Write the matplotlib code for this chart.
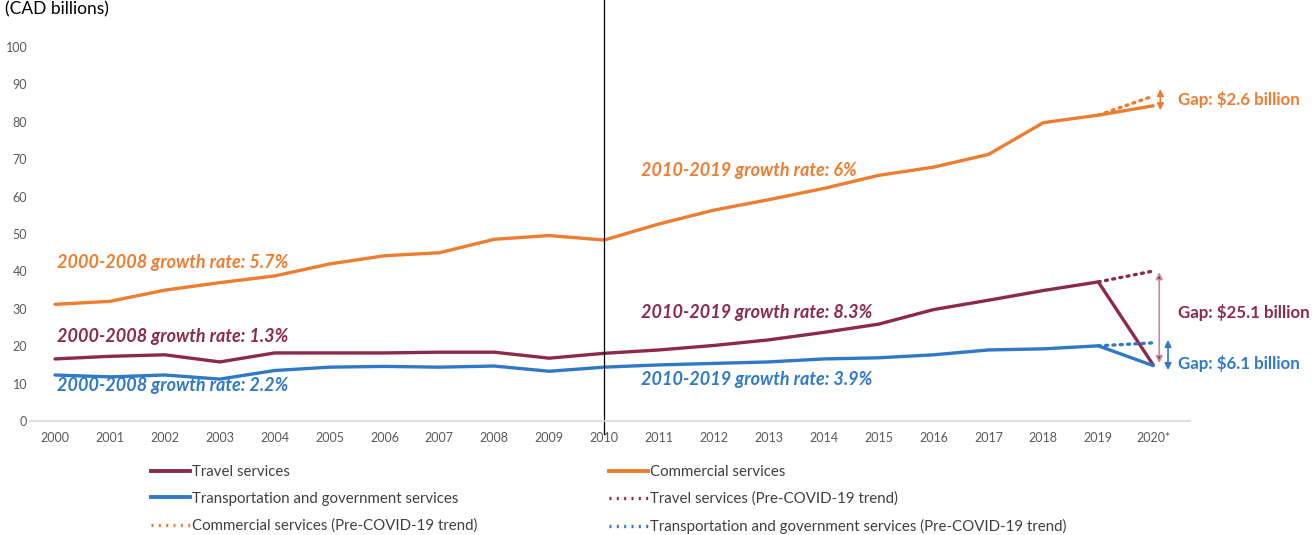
import matplotlib.pyplot as plt
from matplotlib.lines import Line2D

plt.rcParams['font.family'] = ['Lato', 'DejaVu Sans']

# Services exports, CAD billions
years = ['2000', '2001', '2002', '2003', '2004', '2005', '2006', '2007', '2008', '2009',
         '2010', '2011', '2012', '2013', '2014', '2015', '2016', '2017', '2018', '2019', '2020*']
commercial = [31.2, 32.0, 35.0, 37.0, 38.8, 42.0, 44.2, 45.0, 48.6, 49.6,
              48.4, 52.7, 56.4, 59.2, 62.2, 65.7, 67.9, 71.3, 79.8, 81.8, 84.3]
travel = [16.6, 17.3, 17.7, 15.8, 18.2, 18.2, 18.2, 18.4, 18.4, 16.8,
          18.1, 19.0, 20.2, 21.7, 23.7, 25.9, 29.8, 32.3, 34.9, 37.2, 15.0]
transport = [12.3, 11.8, 12.3, 11.2, 13.5, 14.4, 14.6, 14.4, 14.7, 13.3,
             14.4, 15.0, 15.4, 15.8, 16.6, 16.9, 17.7, 19.0, 19.3, 20.1, 14.8]

# pre-COVID trend: 2019 actual and 2020 projection
trend_x = [19, 20]
commercial_trend = [81.8, 86.9]
travel_trend = [37.2, 40.1]
transport_trend = [20.1, 20.9]

gaps = {'commercial': 2.6, 'travel': 25.1, 'transport': 6.1}

c_orange = '#ED7D31'
c_maroon = '#8C2A4E'
c_blue = '#3079C8'
c_pink = '#C98AA0'

fig = plt.figure(figsize=(13.12, 5.35), dpi=100)
ax = fig.add_axes([0.0229, 0.2131, 0.8841, 0.7869])

x = list(range(len(years)))
dot = (0, (0.6, 1.6))
ax.plot(x, travel, color=c_maroon, lw=2.4, solid_capstyle='round')
ax.plot(x, commercial, color=c_orange, lw=2.4, solid_capstyle='round')
ax.plot(x, transport, color=c_blue, lw=2.4, solid_capstyle='round')
ax.plot(trend_x, travel_trend, color=c_maroon, lw=2.4, ls=dot, dash_capstyle='round')
ax.plot(trend_x, commercial_trend, color=c_orange, lw=2.4, ls=dot, dash_capstyle='round')
ax.plot(trend_x, transport_trend, color=c_blue, lw=2.4, ls=dot, dash_capstyle='round')

# 2010 divider
ax.axvline(10, ymin=-0.03, ymax=1, color='black', lw=0.9, clip_on=False)

ax.set_xlim(-0.455, 20.67)
ax.set_ylim(0, 112.6)
ax.set_xticks(x)
ax.set_xticklabels(years)
ax.set_yticks(range(0, 101, 10))
ax.tick_params(length=0, labelsize=9, colors='#595959', pad=8)
ax.tick_params(axis='y', pad=2)
for s in ['top', 'right', 'left']:
    ax.spines[s].set_visible(False)
ax.spines['bottom'].set_color('#D9D9D9')
ax.spines['bottom'].set_linewidth(1.2)

fig.text(0.004, 0.982, '(CAD billions)', fontsize=12.5, ha='left', va='center')

# growth rate labels
ann = dict(fontsize=13, fontweight='bold', fontstyle='italic', va='center', ha='left')
ax.text(0.04, 42.5, '2000-2008 growth rate: 5.7%', color=c_orange, **ann)
ax.text(0.04, 22.5, '2000-2008 growth rate: 1.3%', color=c_maroon, **ann)
ax.text(0.04, 9.4, '2000-2008 growth rate: 2.2%', color=c_blue, **ann)
ax.text(10.67, 67.1, '2010-2019 growth rate: 6%', color=c_orange, **ann)
ax.text(10.67, 29.1, '2010-2019 growth rate: 8.3%', color=c_maroon, **ann)
ax.text(10.67, 11.0, '2010-2019 growth rate: 3.9%', color=c_blue, **ann)

# gap arrows for 2020
arrow = dict(arrowstyle='<|-|>', mutation_scale=10, shrinkA=0, shrinkB=0)
ax.annotate('', xy=(20.13, commercial[-1] - 1.2), xytext=(20.13, commercial_trend[-1] + 1.9),
            arrowprops=dict(color=c_orange, lw=1.2, **arrow), annotation_clip=False)
ax.annotate('', xy=(20.11, travel[-1] + 0.5), xytext=(20.11, travel_trend[-1] - 0.3),
            arrowprops=dict(color=c_pink, lw=1.2, ec=c_pink, fc=c_maroon, **arrow),
            annotation_clip=False)
ax.annotate('', xy=(20.27, transport[-1] - 1.2), xytext=(20.27, transport_trend[-1] + 0.8),
            arrowprops=dict(color=c_blue, lw=1.2, **arrow), annotation_clip=False)

gap_kw = dict(fontsize=12.2, fontweight='bold', va='center', ha='left', clip_on=False)
ax.text(20.45, 86.1, f"Gap: ${gaps['commercial']} billion", color=c_orange, **gap_kw)
ax.text(20.45, 29.1, f"Gap: ${gaps['travel']} billion", color=c_maroon, **gap_kw)
ax.text(20.45, 15.5, f"Gap: ${gaps['transport']} billion", color=c_blue, **gap_kw)

# legend laid out row by row, filled column-wise
handles = [
    Line2D([], [], color=c_maroon, lw=2.8),
    Line2D([], [], color=c_blue, lw=2.8),
    Line2D([], [], color=c_orange, lw=2.4, ls=(0, (0.6, 1.6))),
    Line2D([], [], color=c_orange, lw=2.8),
    Line2D([], [], color=c_maroon, lw=2.4, ls=(0, (0.6, 1.6))),
    Line2D([], [], color=c_blue, lw=2.4, ls=(0, (0.6, 1.6))),
]
labels = ['Travel services', 'Transportation and government services',
          'Commercial services (Pre-COVID-19 trend)', 'Commercial services',
          'Travel services (Pre-COVID-19 trend)',
          'Transportation and government services (Pre-COVID-19 trend)']
fig.legend(handles, labels, ncol=2, loc='upper left', bbox_to_anchor=(0.1154, 0.131),
           frameon=False, fontsize=10.8, handlelength=2.6, handletextpad=0.1,
           labelspacing=0.85, columnspacing=8.8, borderaxespad=0, borderpad=0,
           labelcolor='#404040')

fig.savefig('out.png', dpi=100)
